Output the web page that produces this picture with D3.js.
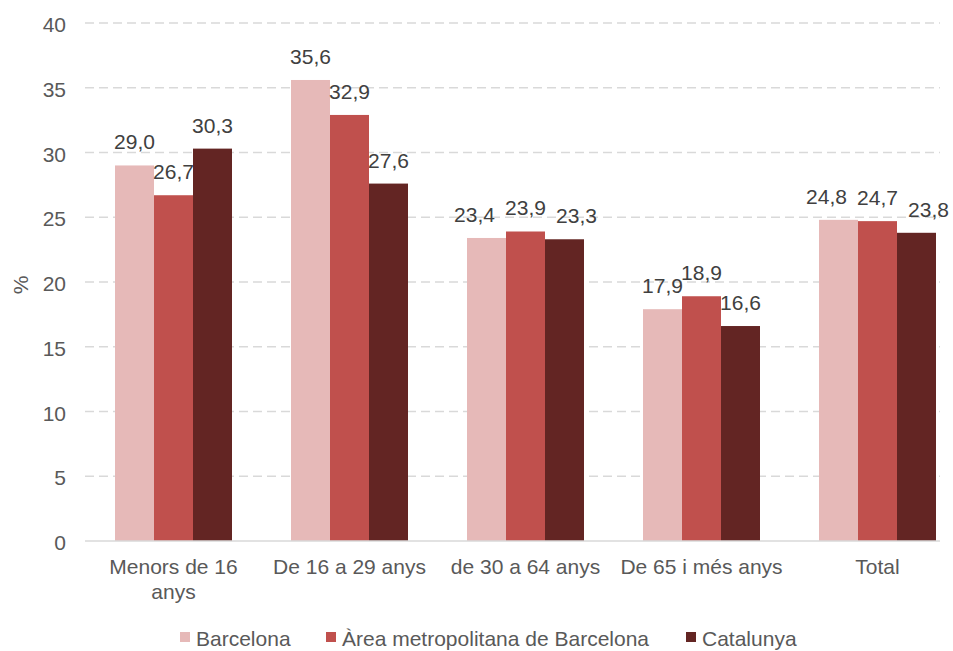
<!DOCTYPE html>
<html>
<head>
<meta charset="utf-8">
<script src="https://d3js.org/d3.v7.min.js"></script>
<style>
  body { margin: 0; background: #fff; }
  text { font-family: "Liberation Sans", Arial, sans-serif; }
</style>
</head>
<body>
<svg id="chart"></svg>
<script>
// Data
const categories = [["Menors de 16", "anys"], ["De 16 a 29 anys"], ["de 30 a 64 anys"], ["De 65 i més anys"], ["Total"]];
const seriesNames = ["Barcelona", "Àrea metropolitana de Barcelona", "Catalunya"];
const barcelona = [29.0, 35.6, 23.4, 17.9, 24.8];
const area = [26.7, 32.9, 23.9, 18.9, 24.7];
const catalunya = [30.3, 27.6, 23.3, 16.6, 23.8];
const yTicks = [0, 5, 10, 15, 20, 25, 30, 35, 40];
const colors = ["#E6B9B8", "#C0504D", "#632523"];

const W = 953, H = 651;
const fs = 21;
const svg = d3.select("#chart").attr("width", W).attr("height", H);

const series = [barcelona, area, catalunya];
const catIdx = categories.map((c, i) => i);

// Scales
const y = d3.scaleLinear().domain([0, 40]).range([541, 23]);
const x0 = d3.scaleBand().domain(catIdx).range([85.5, 965.5]);
const groupW = 117;
const x1 = d3.scaleBand().domain([0, 1, 2]).range([0, groupW]);

const gridLeft = 85, gridRight = 940;

// Gridlines
svg.append("g").selectAll("line")
  .data(yTicks.filter(d => d > 0))
  .enter().append("line")
  .attr("x1", gridLeft).attr("x2", gridRight)
  .attr("y1", d => y(d)).attr("y2", d => y(d))
  .attr("stroke", "#d9d9d9").attr("stroke-width", 1.3)
  .attr("stroke-dasharray", "9,5");

// Y tick labels
svg.append("g").selectAll("text")
  .data(yTicks)
  .enter().append("text")
  .attr("x", 66).attr("y", d => y(d) + 9)
  .attr("text-anchor", "end")
  .attr("font-size", fs).attr("fill", "#595959")
  .text(d => d);

// Y axis title
svg.append("text")
  .attr("transform", "translate(28,285) rotate(-90)")
  .attr("text-anchor", "middle")
  .attr("font-size", fs).attr("fill", "#595959")
  .text("%");

// Bars
const groups = svg.append("g").selectAll("g")
  .data(catIdx)
  .enter().append("g")
  .attr("transform", i => `translate(${x0(i) + x0.bandwidth() / 2 - groupW / 2},0)`);

groups.selectAll("rect")
  .data(i => series.map((s, k) => ({ k, v: s[i] })))
  .enter().append("rect")
  .attr("x", d => x1(d.k))
  .attr("width", x1.bandwidth())
  .attr("y", d => y(d.v))
  .attr("height", d => y(0) - y(d.v))
  .attr("fill", d => colors[d.k]);

// Value labels; neighbours at nearly the same height are pushed outwards
groups.each(function (i) {
  const g = d3.select(this);
  const labels = series.map((s, k) => ({
    k, v: s[i],
    cx: x1(k) + x1.bandwidth() / 2,
    by: y(s[i]) - 16
  }));
  const shift = 12;
  if (Math.abs(labels[0].by - labels[1].by) < 12.3) labels[0].cx -= shift;
  if (Math.abs(labels[2].by - labels[1].by) < 12.3) labels[2].cx += shift;
  g.selectAll("text.val")
    .data(labels)
    .enter().append("text")
    .attr("class", "val")
    .attr("x", d => d.cx)
    .attr("y", d => d.by)
    .attr("text-anchor", "middle")
    .attr("font-size", fs).attr("fill", "#404040")
    .text(d => d.v.toFixed(1).replace(".", ","));
});

// Baseline
svg.append("line")
  .attr("x1", gridLeft).attr("x2", gridRight)
  .attr("y1", y(0)).attr("y2", y(0))
  .attr("stroke", "#d9d9d9").attr("stroke-width", 1.3);

// X labels
const xl = svg.append("g").selectAll("text")
  .data(catIdx)
  .enter().append("text")
  .attr("x", i => x0(i) + x0.bandwidth() / 2)
  .attr("y", 574)
  .attr("text-anchor", "middle")
  .attr("font-size", fs).attr("fill", "#595959");
xl.selectAll("tspan")
  .data(i => categories[i])
  .enter().append("tspan")
  .attr("x", function () { return d3.select(this.parentNode).attr("x"); })
  .attr("dy", (d, j) => j === 0 ? 0 : 25)
  .text(d => d);

// Legend
const legendX = [180, 326, 686];
const legend = svg.append("g").selectAll("g")
  .data(seriesNames)
  .enter().append("g")
  .attr("transform", (d, i) => `translate(${legendX[i]},632)`);
legend.append("rect")
  .attr("width", 10).attr("height", 10)
  .attr("fill", (d, i) => colors[i]);
legend.append("text")
  .attr("x", 16).attr("y", 14)
  .attr("font-size", fs).attr("fill", "#595959")
  .text(d => d);
</script>
</body>
</html>
